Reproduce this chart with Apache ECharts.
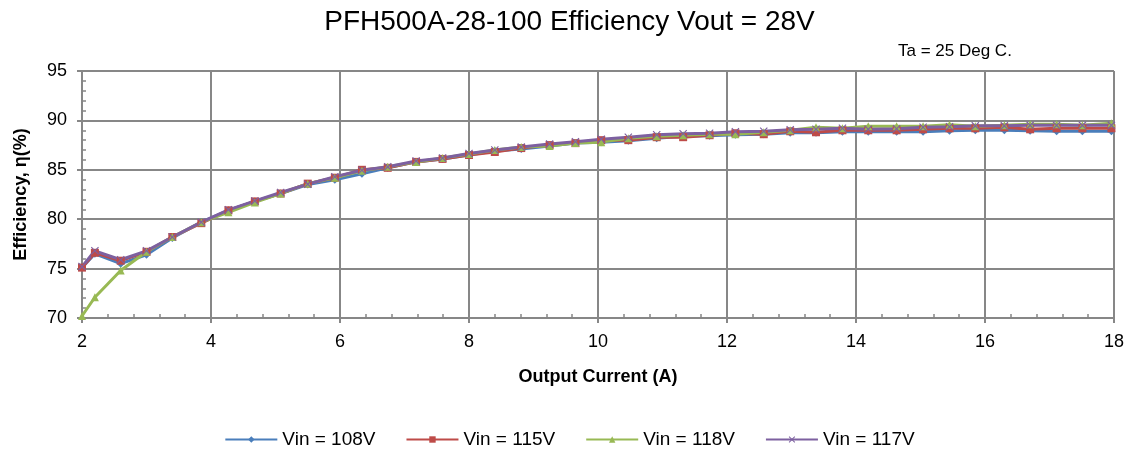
<!DOCTYPE html>
<html>
<head>
<meta charset="utf-8">
<script src="https://cdn.jsdelivr.net/npm/echarts@6/dist/echarts.min.js"></script>
<style>
    html, body { margin: 0; padding: 0; background: #fff; }
    #chart { width: 1139px; height: 457px; }
</style>
</head>
<body>
<div id="chart"></div>
<script>
// output current (A)
var current = [2, 2.2, 2.6, 3.0, 3.4, 3.85, 4.27, 4.68, 5.08, 5.5,
    5.92, 6.34, 6.74, 7.18, 7.59, 8.0, 8.4, 8.81, 9.25, 9.65,
    10.05, 10.47, 10.91, 11.32, 11.73, 12.13, 12.57, 12.98, 13.38, 13.79,
    14.19, 14.63, 15.04, 15.45, 15.85, 16.3, 16.7, 17.11, 17.51, 17.96];

// efficiency (%) per input voltage
var vin108 = [75.1, 76.5, 75.5, 76.4, 78.1, 79.7, 80.9, 81.8, 82.6, 83.5,
    84.0, 84.6, 85.2, 85.8, 86.1, 86.5, 86.9, 87.1, 87.4, 87.7,
    87.8, 87.95, 88.2, 88.4, 88.45, 88.55, 88.6, 88.75, 88.75, 88.85,
    88.85, 88.85, 88.85, 88.95, 89.0, 89.0, 88.95, 88.9, 88.9, 88.9];
var vin115 = [75.1, 76.6, 75.8, 76.7, 78.2, 79.6, 80.9, 81.8, 82.6, 83.6,
    84.2, 85.0, 85.2, 85.8, 86.1, 86.5, 86.8, 87.2, 87.5, 87.7,
    88.0, 88.0, 88.3, 88.3, 88.5, 88.7, 88.6, 88.9, 88.8, 89.0,
    89.0, 89.0, 89.1, 89.2, 89.2, 89.3, 89.1, 89.2, 89.2, 89.2];
var vin118 = [70.2, 72.1, 74.8, 76.7, 78.2, 79.7, 80.7, 81.7, 82.6, 83.6,
    84.2, 84.9, 85.3, 85.8, 86.2, 86.6, 87.0, 87.3, 87.4, 87.7,
    87.8, 88.2, 88.4, 88.5, 88.6, 88.6, 88.8, 89.0, 89.3, 89.2,
    89.4, 89.4, 89.4, 89.55, 89.4, 89.5, 89.6, 89.6, 89.5, 89.7];
var vin117 = [75.2, 76.8, 75.9, 76.8, 78.2, 79.7, 80.95, 81.85, 82.7, 83.55,
    84.3, 84.95, 85.3, 85.9, 86.2, 86.65, 87.0, 87.3, 87.6, 87.85,
    88.1, 88.3, 88.55, 88.65, 88.7, 88.85, 88.9, 89.05, 89.1, 89.2,
    89.1, 89.15, 89.3, 89.35, 89.45, 89.45, 89.5, 89.5, 89.5, 89.5];

var seriesNames = ['Vin = 108V', 'Vin = 115V', 'Vin = 118V', 'Vin = 117V'];
var lineColors = ['#4A7EBB', '#BE4B48', '#98B954', '#7D60A0'];
var xMark = 'path://M0,1 L1,0 L5,4 L9,0 L10,1 L6,5 L10,9 L9,10 L5,6 L1,10 L0,9 L4,5 Z';
var symbols = ['diamond', 'rect', 'triangle', xMark];

var gridColor = '#878787';
var font = 'Liberation Sans, Arial, sans-serif';

function pair(xs, ys) {
    var out = [];
    for (var i = 0; i < xs.length; i++) {
        out.push([xs[i], ys[i]]);
    }
    return out;
}

var allData = [vin108, vin115, vin118, vin117];
var series = [];
for (var i = 0; i < allData.length; i++) {
    series.push({
        name: seriesNames[i],
        type: 'line',
        data: pair(current, allData[i]),
        symbol: symbols[i],
        symbolSize: 8,
        showAllSymbol: true,
        lineStyle: { color: lineColors[i], width: 3 },
        itemStyle: { color: lineColors[i] },
        animation: false
    });
}

function $extend(a, b) {
    for (var k in b) { a[k] = b[k]; }
    return a;
}
// main axis: labels, grid, major ticks outside
function mainAxis(extra) {
    return $extend({
        type: 'value',
        nameLocation: 'middle',
        nameTextStyle: { fontFamily: font, fontSize: 18, fontWeight: 'bold', color: '#000' },
        axisLine: { show: true, lineStyle: { color: gridColor, width: 2 } },
        axisTick: { show: true, inside: false, length: 5, lineStyle: { color: gridColor, width: 2 } },
        axisLabel: { fontFamily: font, fontSize: 18, color: '#000', margin: 15 },
        splitLine: { show: true, lineStyle: { color: gridColor, width: 2 } }
    }, extra);
}
// overlay axis: only the small inside minor ticks
function minorAxis(extra) {
    return $extend({
        type: 'value',
        axisLine: { show: false },
        axisTick: { show: false, inside: true },
        minorTick: { show: true, splitNumber: 5, length: 4, lineStyle: { color: gridColor, width: 1.5 } },
        axisLabel: { show: false },
        splitLine: { show: false }
    }, extra);
}

var myChart = echarts.init(document.getElementById('chart'));
myChart.setOption({
    title: [{
        text: 'PFH500A-28-100 Efficiency Vout = 28V',
        left: 'center',
        top: 3,
        textStyle: { fontFamily: font, fontSize: 28, fontWeight: 'normal', color: '#000' }
    }, {
        text: 'Ta = 25 Deg C.',
        left: 893,
        top: 38,
        textStyle: { fontFamily: font, fontSize: 17, fontWeight: 'normal', color: '#000' }
    }],
    legend: {
        bottom: 3,
        left: 'center',
        itemGap: 30,
        itemWidth: 52,
        itemHeight: 8,
        textStyle: { fontFamily: font, fontSize: 19, color: '#000' },
        data: seriesNames
    },
    grid: { left: 82, right: 25, top: 71, bottom: 139 },
    xAxis: [
        mainAxis({ min: 2, max: 18, interval: 2, position: 'bottom',
            name: 'Output Current (A)', nameGap: 50 }),
        minorAxis({ min: 2, max: 18, interval: 2, position: 'bottom' })
    ],
    yAxis: [
        mainAxis({ min: 70, max: 95, interval: 5, position: 'left',
            name: 'Efficiency, η(%)', nameGap: 52 }),
        minorAxis({ min: 70, max: 95, interval: 5, position: 'left' })
    ],
    series: series
});
</script>
</body>
</html>
